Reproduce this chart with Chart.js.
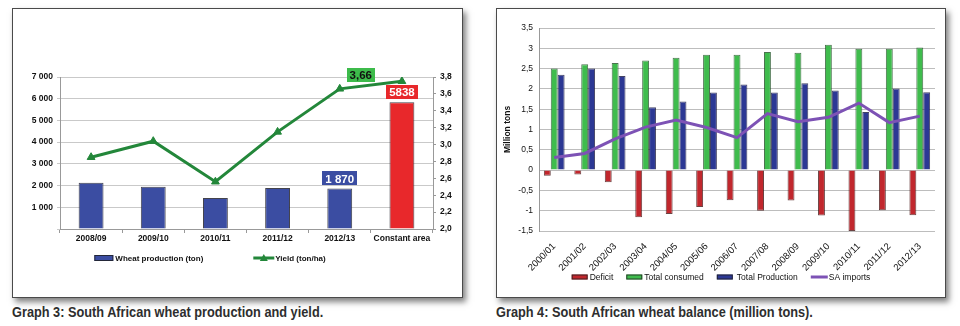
<!DOCTYPE html>
<html>
<head>
<meta charset="utf-8">
<script src="https://cdn.jsdelivr.net/npm/chart.js@4/dist/chart.umd.min.js"></script>
<style>
  body { margin: 0; width: 960px; height: 326px; background: #fff; position: relative; overflow: hidden; }
  .panel { position: absolute; top: 8px; height: 288px; border: 1px solid #4a4a4a; background: #fff; box-shadow: 3px 4px 6px rgba(0,0,0,0.5); }
  #panel3 { left: 12px; width: 449px; }
  #panel4 { left: 496px; width: 448px; }
  .panel canvas { display: block; }
  .caption { position: absolute; top: 303px; font: bold 15px "Liberation Sans", Arial, sans-serif; color: #2e2e2e; white-space: nowrap; transform: scaleX(0.85); transform-origin: left top; }
</style>
</head>
<body>
<div class="panel" id="panel3"><canvas id="yieldChart" width="449" height="288"></canvas></div>
<div class="panel" id="panel4"><canvas id="balanceChart" width="448" height="288"></canvas></div>
<div class="caption" style="left:12px">Graph 3: South African wheat production and yield.</div>
<div class="caption" style="left:496px">Graph 4: South African wheat balance (million tons).</div>
<script>
// Graph 3: production (ton) and yield (ton/ha)
const seasons = ['2008/09', '2009/10', '2010/11', '2011/12', '2012/13', 'Constant area'];
const wheatProduction = [2130, 1950, 1430, 1890, 1870, 5838];
const wheatYield = [2.85, 3.04, 2.56, 3.15, 3.66, 3.75];

// Graph 4: wheat balance, million tons
const marketingYears = ['2000/01', '2001/02', '2002/03', '2003/04', '2004/05', '2005/06', '2006/07',
  '2007/08', '2008/09', '2009/10', '2010/11', '2011/12', '2012/13'];
const deficit = [-0.14, -0.11, -0.30, -1.16, -1.08, -0.91, -0.74, -1.00, -0.75, -1.12, -1.50, -0.99, -1.11];
const totalConsumed = [2.50, 2.61, 2.64, 2.70, 2.77, 2.84, 2.84, 2.91, 2.89, 3.09, 2.99, 2.99, 3.02];
const totalProduction = [2.35, 2.50, 2.32, 1.55, 1.69, 1.91, 2.11, 1.91, 2.14, 1.96, 1.43, 2.01, 1.92];
const saImports = [0.31, 0.41, 0.77, 1.06, 1.23, 1.05, 0.80, 1.39, 1.19, 1.30, 1.65, 1.17, 1.33];

const FONT = "'Liberation Sans', Arial, sans-serif";
Chart.defaults.font.family = FONT;
Chart.defaults.color = '#111';

const spaced = v => String(v).replace(/\B(?=(\d{3})+(?!\d))/g, ' ');
const comma = (v, d) => (d == null ? String(Math.round(v * 10) / 10) : v.toFixed(d)).replace('.', ',');

// boxed value labels above selected points/bars
function valueTags(tags) {
  return {
    id: 'valueTags',
    afterDatasetsDraw(chart) {
      const ctx = chart.ctx;
      ctx.save();
      ctx.font = 'bold 11.5px ' + FONT;
      ctx.textAlign = 'center';
      ctx.textBaseline = 'middle';
      tags.forEach(t => {
        const el = chart.getDatasetMeta(t.ds).data[t.i];
        const text = t.fmt(chart.data.datasets[t.ds].data[t.i]);
        const w = ctx.measureText(text).width + 6, h = 14;
        const cx = el.x + t.dx, cy = el.y + t.dy;
        ctx.fillStyle = t.bg;
        ctx.fillRect(Math.round(cx - w / 2), Math.round(cy - h / 2), Math.round(w), h);
        ctx.fillStyle = t.color;
        ctx.fillText(text, cx, cy + 1);
      });
      ctx.restore();
    }
  };
}

// one-row legend drawn under the axis labels
function keyRow(items, cx, cy, gap, font) {
  return {
    id: 'keyRow',
    afterDraw(chart) {
      const ctx = chart.ctx;
      ctx.save();
      ctx.font = font;
      const widths = items.map(it => it.w + it.space + ctx.measureText(chart.data.datasets[it.ds].label).width);
      const total = widths.reduce((a, b) => a + b, 0) + gap * (items.length - 1);
      let x = cx - total / 2;
      items.forEach((it, n) => {
        const ds = chart.data.datasets[it.ds];
        if (it.kind === 'bar') {
          const fill = Array.isArray(ds.backgroundColor) ? ds.backgroundColor[0] : ds.backgroundColor;
          ctx.fillStyle = fill;
          ctx.fillRect(x, cy - it.h / 2, it.w, it.h);
          ctx.strokeStyle = 'rgba(30,30,30,0.8)';
          ctx.lineWidth = 1;
          ctx.strokeRect(x + 0.5, cy - it.h / 2 + 0.5, it.w - 1, it.h - 1);
        } else {
          ctx.strokeStyle = ds.borderColor;
          ctx.lineWidth = 3;
          ctx.beginPath();
          ctx.moveTo(x, cy);
          ctx.lineTo(x + it.w, cy);
          ctx.stroke();
          if (it.marker) {
            const mx = x + it.w / 2;
            ctx.fillStyle = ds.borderColor;
            ctx.beginPath();
            ctx.moveTo(mx, cy - 4);
            ctx.lineTo(mx + 4, cy + 3);
            ctx.lineTo(mx - 4, cy + 3);
            ctx.closePath();
            ctx.fill();
          }
        }
        ctx.fillStyle = '#111';
        ctx.textAlign = 'left';
        ctx.textBaseline = 'middle';
        ctx.fillText(ds.label, x + it.w + it.space, cy + 0.5);
        x += widths[n] + gap;
      });
      ctx.restore();
    }
  };
}

// Graph 3
new Chart(document.getElementById('yieldChart'), {
  type: 'bar',
  data: {
    labels: seasons,
    datasets: [
      {
        type: 'bar', label: 'Wheat production (ton)', data: wheatProduction, yAxisID: 'y',
        backgroundColor: seasons.map((s, i) => i === seasons.length - 1 ? '#e8282b' : '#3b4da2'),
        borderColor: 'rgba(35,35,45,0.85)', borderWidth: 1,
        barPercentage: 0.4, categoryPercentage: 1, order: 1
      },
      {
        type: 'line', label: 'Yield (ton/ha)', data: wheatYield, yAxisID: 'y1',
        borderColor: '#23873a', backgroundColor: '#23873a', borderWidth: 3,
        pointStyle: 'triangle', pointRadius: 4.5, pointBorderWidth: 1, tension: 0, order: 0
      }
    ]
  },
  options: {
    responsive: false,
    animation: false,
    layout: { padding: { top: 68, bottom: 48, left: 0, right: 0 } },
    plugins: { legend: { display: false }, tooltip: { enabled: false } },
    scales: {
      x: {
        grid: { offset: true, drawOnChartArea: false, tickLength: 4, color: '#999' },
        border: { color: '#999' },
        ticks: { font: { size: 8.5, weight: 'bold' }, padding: 1, autoSkip: false, maxRotation: 0 },
        afterFit: s => { s.height = 20; }
      },
      y: {
        position: 'left', min: 0, max: 7000,
        ticks: { stepSize: 1000, callback: v => v === 0 ? '' : spaced(v), font: { size: 8.5, weight: 'bold' }, padding: 4 },
        grid: { color: '#c9c9c9', tickLength: 3 },
        border: { color: '#999' },
        afterFit: s => { s.width = 47; }
      },
      y1: {
        position: 'right', min: 2, max: 3.8,
        ticks: { stepSize: 0.2, callback: v => comma(v, 1), font: { size: 8.5, weight: 'bold' }, padding: 4 },
        grid: { drawOnChartArea: false, tickLength: 3, color: '#999' },
        border: { color: '#999' },
        afterFit: s => { s.width = 29; }
      }
    }
  },
  plugins: [
    valueTags([
      { ds: 1, i: 4, bg: '#3dbb4b', color: '#111', dx: 21, dy: -14, fmt: v => comma(v, 2) },
      { ds: 0, i: 4, bg: '#3b4da2', color: '#fff', dx: 0, dy: -10, fmt: spaced },
      { ds: 0, i: 5, bg: '#e8282b', color: '#fff', dx: 0, dy: -10, fmt: v => String(v) }
    ]),
    keyRow([
      { ds: 0, kind: 'bar', w: 19, h: 6, space: 2 },
      { ds: 1, kind: 'line', w: 21, marker: true, space: 1 }
    ], 197, 249, 50, 'bold 8px ' + FONT)
  ]
});

// Graph 4
new Chart(document.getElementById('balanceChart'), {
  type: 'bar',
  data: {
    labels: marketingYears,
    datasets: [
      { label: 'Deficit', data: deficit, backgroundColor: '#c1272d', borderColor: 'rgba(70,20,20,0.8)', borderWidth: 1, order: 1 },
      { label: 'Total consumed', data: totalConsumed, backgroundColor: '#3fbc4d', borderColor: 'rgba(30,80,35,0.8)', borderWidth: 1, order: 1 },
      { label: 'Total Production', data: totalProduction, backgroundColor: '#2c3894', borderColor: 'rgba(20,20,60,0.8)', borderWidth: 1, order: 1 },
      { type: 'line', label: 'SA imports', data: saImports, borderColor: '#7d52b5', borderWidth: 3, pointRadius: 0, tension: 0, order: 0 }
    ]
  },
  options: {
    responsive: false,
    animation: false,
    datasets: { bar: { categoryPercentage: 0.68, barPercentage: 1 } },
    layout: { padding: { top: 19, right: 10, bottom: 26, left: 0 } },
    plugins: { legend: { display: false }, tooltip: { enabled: false } },
    scales: {
      x: {
        grid: { display: false },
        border: { display: false },
        ticks: { minRotation: 45, maxRotation: 45, autoSkip: false, font: { size: 9.5 }, padding: 2 },
        afterFit: s => { s.height = 40; }
      },
      y: {
        min: -1.5, max: 3.5,
        ticks: { stepSize: 0.5, callback: v => comma(v), font: { size: 8.5 }, padding: 6 },
        grid: { color: '#bdbdbd', drawTicks: false },
        border: { color: '#999' },
        title: { display: true, text: 'Million tons', font: { size: 8.5, weight: 'bold' }, padding: { top: 6, bottom: 0 } },
        afterFit: s => { s.width = 42; }
      }
    }
  },
  plugins: [
    keyRow([
      { ds: 0, kind: 'bar', w: 16, h: 5, space: 2 },
      { ds: 1, kind: 'bar', w: 16, h: 5, space: 2 },
      { ds: 2, kind: 'bar', w: 16, h: 5, space: 4 },
      { ds: 3, kind: 'line', w: 17, space: 1 }
    ], 224, 268, 13, '8.5px ' + FONT)
  ]
});
</script>
</body>
</html>
